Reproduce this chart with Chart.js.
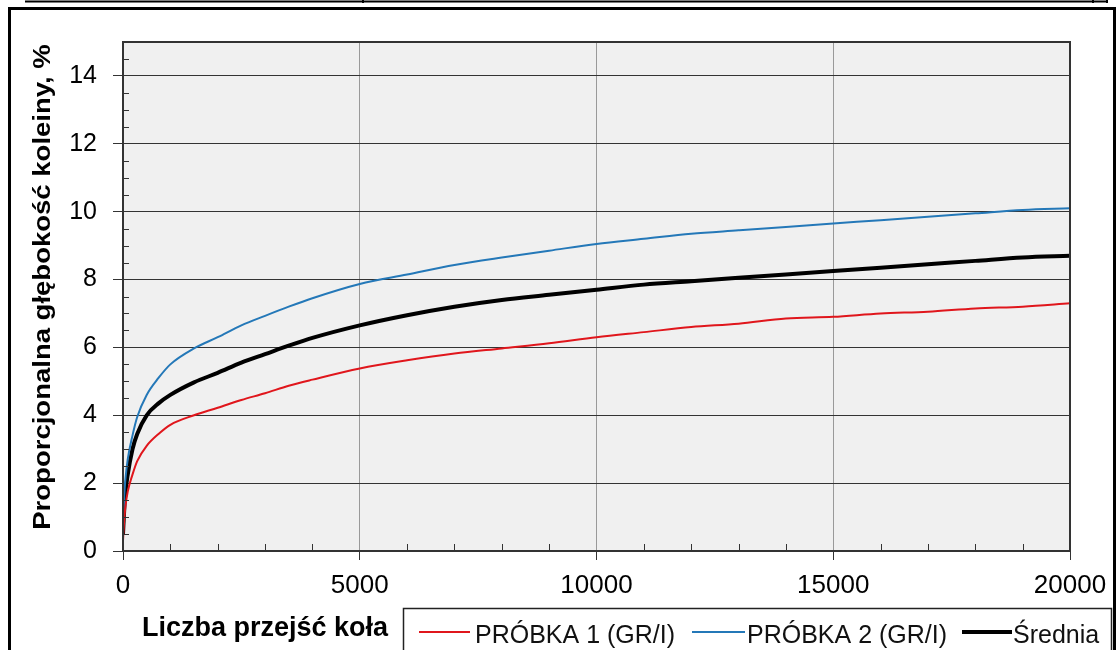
<!DOCTYPE html>
<html>
<head>
<meta charset="utf-8">
<script src="https://cdn.jsdelivr.net/npm/chart.js@4"></script>
<style>
  body { margin: 0; background: #fff; }
  canvas { display: block; }
</style>
</head>
<body>
<canvas id="rutChart" width="1117" height="650"></canvas>
<script>
// liczba przejść koła (x) i głębokość koleiny, %
const passes = [0, 25, 50, 100, 200, 300, 500, 750, 1000, 1500, 2000, 2500, 3000, 3500, 4000,
  5000, 6000, 7000, 8000, 9000, 10000, 11000, 12000, 13000, 14000, 15000, 16000, 17000, 18000, 19000, 20000];
const sample1 = [0.3, 0.9, 1.3, 1.75, 2.25, 2.65, 3.1, 3.45, 3.72, 4.0, 4.22, 4.45, 4.65, 4.87, 5.05,
  5.38, 5.62, 5.82, 5.97, 6.12, 6.3, 6.45, 6.6, 6.7, 6.85, 6.9, 7.0, 7.05, 7.15, 7.2, 7.3];
const sample2 = [0.7, 1.6, 2.1, 2.7, 3.4, 3.95, 4.6, 5.1, 5.5, 5.97, 6.3, 6.65, 6.93, 7.2, 7.45,
  7.87, 8.15, 8.43, 8.65, 8.85, 9.05, 9.2, 9.35, 9.45, 9.55, 9.65, 9.75, 9.85, 9.95, 10.05, 10.1];
const average = [0.5, 1.2, 1.7, 2.25, 3.0, 3.45, 4.0, 4.35, 4.6, 4.97, 5.25, 5.55, 5.8, 6.05, 6.28,
  6.65, 6.95, 7.2, 7.4, 7.55, 7.7, 7.85, 7.95, 8.05, 8.15, 8.25, 8.35, 8.45, 8.55, 8.65, 8.7];

const seriesLabels = ['PRÓBKA 1 (GR/I)', 'PRÓBKA 2 (GR/I)', 'Średnia'];
const xTitle = 'Liczba przejść koła';
const yTitle = 'Proporcjonalna głębokość koleiny, %';

const FONT = "Arial, 'Liberation Sans', sans-serif";

const toPoints = arr => arr.map((v, i) => ({ x: passes[i], y: v }));

// tło obszaru wykresu, ramki, drobne kreski, tytuły osi i legenda
const decorations = {
  id: 'decorations',
  beforeDraw(chart) {
    const { ctx, chartArea: a } = chart;
    ctx.save();
    ctx.fillStyle = '#f0f0f0';
    ctx.fillRect(a.left, a.top, a.right - a.left, a.bottom - a.top);
    ctx.restore();
  },
  afterDraw(chart) {
    const { ctx, chartArea: a, scales } = chart;
    ctx.save();

    // ramka obszaru wykresu
    ctx.strokeStyle = '#333';
    ctx.lineWidth = 2;
    ctx.strokeRect(a.left, a.top, a.right - a.left, a.bottom - a.top);

    // drobne kreski osi Y (co 0,5) i osi X (co 1000), do środka
    ctx.lineWidth = 1;
    ctx.beginPath();
    for (let v = 0.5; v < 15; v += 0.5) {
      if (v % 2 === 0) continue;
      const py = Math.round(scales.y.getPixelForValue(v)) + 0.5;
      ctx.moveTo(a.left, py); ctx.lineTo(a.left + 6, py);
    }
    for (let v = 1000; v < 20000; v += 1000) {
      if (v % 5000 === 0) continue;
      const px = Math.round(scales.x.getPixelForValue(v)) + 0.5;
      ctx.moveTo(px, a.bottom); ctx.lineTo(px, a.bottom - 7);
    }
    ctx.stroke();

    // zewnętrzna ramka i fragment tabeli powyżej
    ctx.strokeStyle = '#000';
    ctx.lineWidth = 3;
    ctx.strokeRect(9.5, 8.5, 1105, 680);
    ctx.lineWidth = 2;
    ctx.beginPath();
    ctx.moveTo(25, 1.5); ctx.lineTo(1107, 1.5);
    ctx.moveTo(363, 0); ctx.lineTo(363, 3);
    ctx.moveTo(1093, 0); ctx.lineTo(1093, 3);
    ctx.moveTo(1107, 0); ctx.lineTo(1107, 3);
    ctx.stroke();

    // tytuł osi Y
    ctx.fillStyle = '#000';
    ctx.font = 'bold 24px ' + FONT;
    ctx.save();
    ctx.translate(50, 287);
    ctx.rotate(-Math.PI / 2);
    ctx.scale(1.146, 1);
    ctx.textAlign = 'center';
    ctx.textBaseline = 'alphabetic';
    ctx.fillText(yTitle, 0, 0);
    ctx.restore();

    // tytuł osi X
    ctx.font = 'bold 27px ' + FONT;
    ctx.textAlign = 'left';
    ctx.textBaseline = 'alphabetic';
    ctx.fillText(xTitle, 142, 636);

    // legenda
    ctx.strokeStyle = '#222';
    ctx.lineWidth = 1.5;
    ctx.strokeRect(403.5, 608.5, 708, 60);
    const items = [
      { x0: 419, x1: 470, tx: 475 },
      { x0: 692, x1: 745, tx: 747 },
      { x0: 962, x1: 1012, tx: 1013 }
    ];
    ctx.font = '25px ' + FONT;
    chart.data.datasets.forEach((ds, i) => {
      const it = items[i];
      ctx.strokeStyle = ds.borderColor;
      ctx.lineWidth = ds.borderWidth;
      ctx.beginPath();
      ctx.moveTo(it.x0, 632); ctx.lineTo(it.x1, 632);
      ctx.stroke();
      ctx.fillStyle = '#111';
      ctx.fillText(ds.label, it.tx, 643);
    });

    ctx.restore();
  }
};

const config = {
  type: 'line',
  data: {
    datasets: [
      { label: seriesLabels[0], data: toPoints(sample1), borderColor: '#e0161c', borderWidth: 2 },
      { label: seriesLabels[1], data: toPoints(sample2), borderColor: '#2478b8', borderWidth: 2 },
      { label: seriesLabels[2], data: toPoints(average), borderColor: '#000000', borderWidth: 4 }
    ]
  },
  options: {
    responsive: false,
    animation: false,
    devicePixelRatio: 1,
    layout: { padding: { left: 0, top: 42, right: 47, bottom: 0 } },
    elements: {
      point: { radius: 0 },
      line: { cubicInterpolationMode: 'monotone', fill: false }
    },
    plugins: {
      legend: { display: false },
      tooltip: { enabled: false }
    },
    scales: {
      x: {
        type: 'linear',
        min: 0,
        max: 20000,
        afterFit: s => { s.height = 99; },
        ticks: {
          stepSize: 5000,
          padding: 10,
          color: '#000',
          font: { family: FONT, size: 26 },
          maxRotation: 0,
          callback: v => String(v)
        },
        grid: { color: '#999', lineWidth: 1, tickLength: 9, tickColor: '#333' },
        border: { display: true, color: '#333', width: 2 }
      },
      y: {
        min: 0,
        max: 15,
        afterFit: s => { s.width = 123; },
        afterBuildTicks: s => { s.ticks = s.ticks.filter(t => t.value <= 14); },
        ticks: {
          stepSize: 2,
          padding: 16,
          color: '#000',
          font: { family: FONT, size: 25 }
        },
        grid: { color: '#333', lineWidth: 1, tickLength: 10, tickColor: '#333' },
        border: { display: true, color: '#333', width: 2 }
      }
    }
  },
  plugins: [decorations]
};

const ctx = document.getElementById('rutChart').getContext('2d');
const rutChart = new Chart(ctx, config);
</script>
</body>
</html>
